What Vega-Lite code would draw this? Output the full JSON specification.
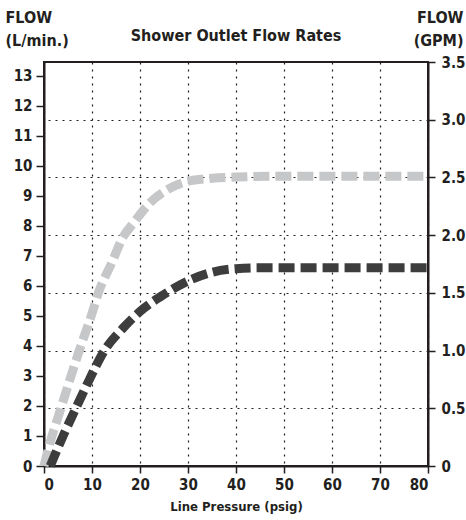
{
  "$schema": "https://vega.github.io/schema/vega-lite/v6.json",
  "width": 384,
  "height": 404,
  "autosize": "none",
  "padding": {"left": 44, "top": 62, "right": 38, "bottom": 54},
  "background": "white",
  "config": {
    "font": "DejaVu Sans Condensed",
    "view": {"stroke": "#231f20", "strokeWidth": 2},
    "axis": {
      "domainColor": "#231f20",
      "domainWidth": 2,
      "tickColor": "#231f20",
      "tickWidth": 1.5,
      "tickSize": 8,
      "labelFont": "DejaVu Sans Condensed",
      "labelFontWeight": "bold",
      "labelFontSize": 15,
      "labelColor": "#231f20",
      "labelPadding": 4,
      "titleFont": "DejaVu Sans Condensed",
      "titleFontWeight": "bold",
      "titleColor": "#231f20",
      "gridColor": "#231f20",
      "gridWidth": 1.2,
      "gridDash": [2, 5],
      "gridOpacity": 1
    }
  },
  "title": {
    "text": "Shower Outlet Flow Rates",
    "font": "DejaVu Sans Condensed",
    "fontWeight": "bold",
    "fontSize": 16,
    "color": "#231f20",
    "anchor": "middle",
    "offset": 0,
    "dy": 35
  },
  "layer": [
    {
      "data": {
        "values": [
          {"series": "high", "psi": 0, "flow": 0},
          {"series": "high", "psi": 1, "flow": 0.63},
          {"series": "high", "psi": 3.5, "flow": 1.91},
          {"series": "high", "psi": 7.3, "flow": 3.82},
          {"series": "high", "psi": 10, "flow": 5.08},
          {"series": "high", "psi": 11.3, "flow": 5.75},
          {"series": "high", "psi": 14.1, "flow": 6.76},
          {"series": "high", "psi": 16.5, "flow": 7.63},
          {"series": "high", "psi": 18.6, "flow": 8.08},
          {"series": "high", "psi": 22, "flow": 8.75},
          {"series": "high", "psi": 25.6, "flow": 9.19},
          {"series": "high", "psi": 29.7, "flow": 9.47},
          {"series": "high", "psi": 35, "flow": 9.58},
          {"series": "high", "psi": 40, "flow": 9.62},
          {"series": "high", "psi": 50, "flow": 9.65},
          {"series": "high", "psi": 60, "flow": 9.65},
          {"series": "high", "psi": 70, "flow": 9.65},
          {"series": "high", "psi": 80, "flow": 9.65},
          {"series": "low", "psi": 1.3, "flow": 0},
          {"series": "low", "psi": 4.2, "flow": 1.08},
          {"series": "low", "psi": 6.6, "flow": 1.91},
          {"series": "low", "psi": 9.4, "flow": 2.86},
          {"series": "low", "psi": 12.5, "flow": 3.82},
          {"series": "low", "psi": 16.7, "flow": 4.63},
          {"series": "low", "psi": 20.8, "flow": 5.25},
          {"series": "low", "psi": 24.2, "flow": 5.63},
          {"series": "low", "psi": 30.4, "flow": 6.19},
          {"series": "low", "psi": 35, "flow": 6.45},
          {"series": "low", "psi": 40, "flow": 6.57},
          {"series": "low", "psi": 45, "flow": 6.6},
          {"series": "low", "psi": 60, "flow": 6.6},
          {"series": "low", "psi": 80, "flow": 6.6}
        ]
      },
      "mark": {
        "type": "line",
        "interpolate": "monotone",
        "strokeWidth": 9,
        "strokeDash": [16, 6],
        "strokeCap": "butt"
      },
      "encoding": {
        "x": {
          "field": "psi",
          "type": "quantitative",
          "scale": {"domain": [0, 80], "nice": false},
          "axis": {
            "values": [0, 10, 20, 30, 40, 50, 60, 70, 80],
            "grid": true,
            "tickSize": 7,
            "labelPadding": 4,
            "title": "Line Pressure (psig)",
            "titleFontSize": 13,
            "titlePadding": 8
          }
        },
        "y": {
          "field": "flow",
          "type": "quantitative",
          "scale": {"domain": [0, 13.45], "nice": false},
          "axis": {
            "orient": "left",
            "values": [0, 1, 2, 3, 4, 5, 6, 7, 8, 9, 10, 11, 12, 13],
            "grid": false,
            "title": ["FLOW", "(L/min.)"],
            "titleAngle": 0,
            "titleAlign": "left",
            "titleBaseline": "alphabetic",
            "titleFontSize": 16,
            "titleLineHeight": 23,
            "titleX": -39,
            "titleY": -40
          }
        },
        "color": {
          "field": "series",
          "type": "nominal",
          "scale": {"domain": ["high", "low"], "range": ["#c6c7c8", "#3d3d3d"]},
          "legend": null
        }
      }
    },
    {
      "data": {"values": [{"gpm": 0}, {"gpm": 3.5}]},
      "mark": {"type": "point", "opacity": 0},
      "encoding": {
        "y": {
          "field": "gpm",
          "type": "quantitative",
          "scale": {"domain": [0, 3.5], "nice": false},
          "axis": {
            "orient": "right",
            "values": [0, 0.5, 1, 1.5, 2, 2.5, 3, 3.5],
            "labelExpr": "datum.value == 0 ? '0' : format(datum.value, '.1f')",
            "grid": true,
            "tickSize": 7,
            "labelPadding": 6,
            "title": ["FLOW", "(GPM)"],
            "titleAngle": 0,
            "titleAlign": "right",
            "titleBaseline": "alphabetic",
            "titleFontSize": 16,
            "titleLineHeight": 23,
            "titleX": 35,
            "titleY": -40
          }
        }
      }
    }
  ],
  "resolve": {"scale": {"y": "independent"}}
}
